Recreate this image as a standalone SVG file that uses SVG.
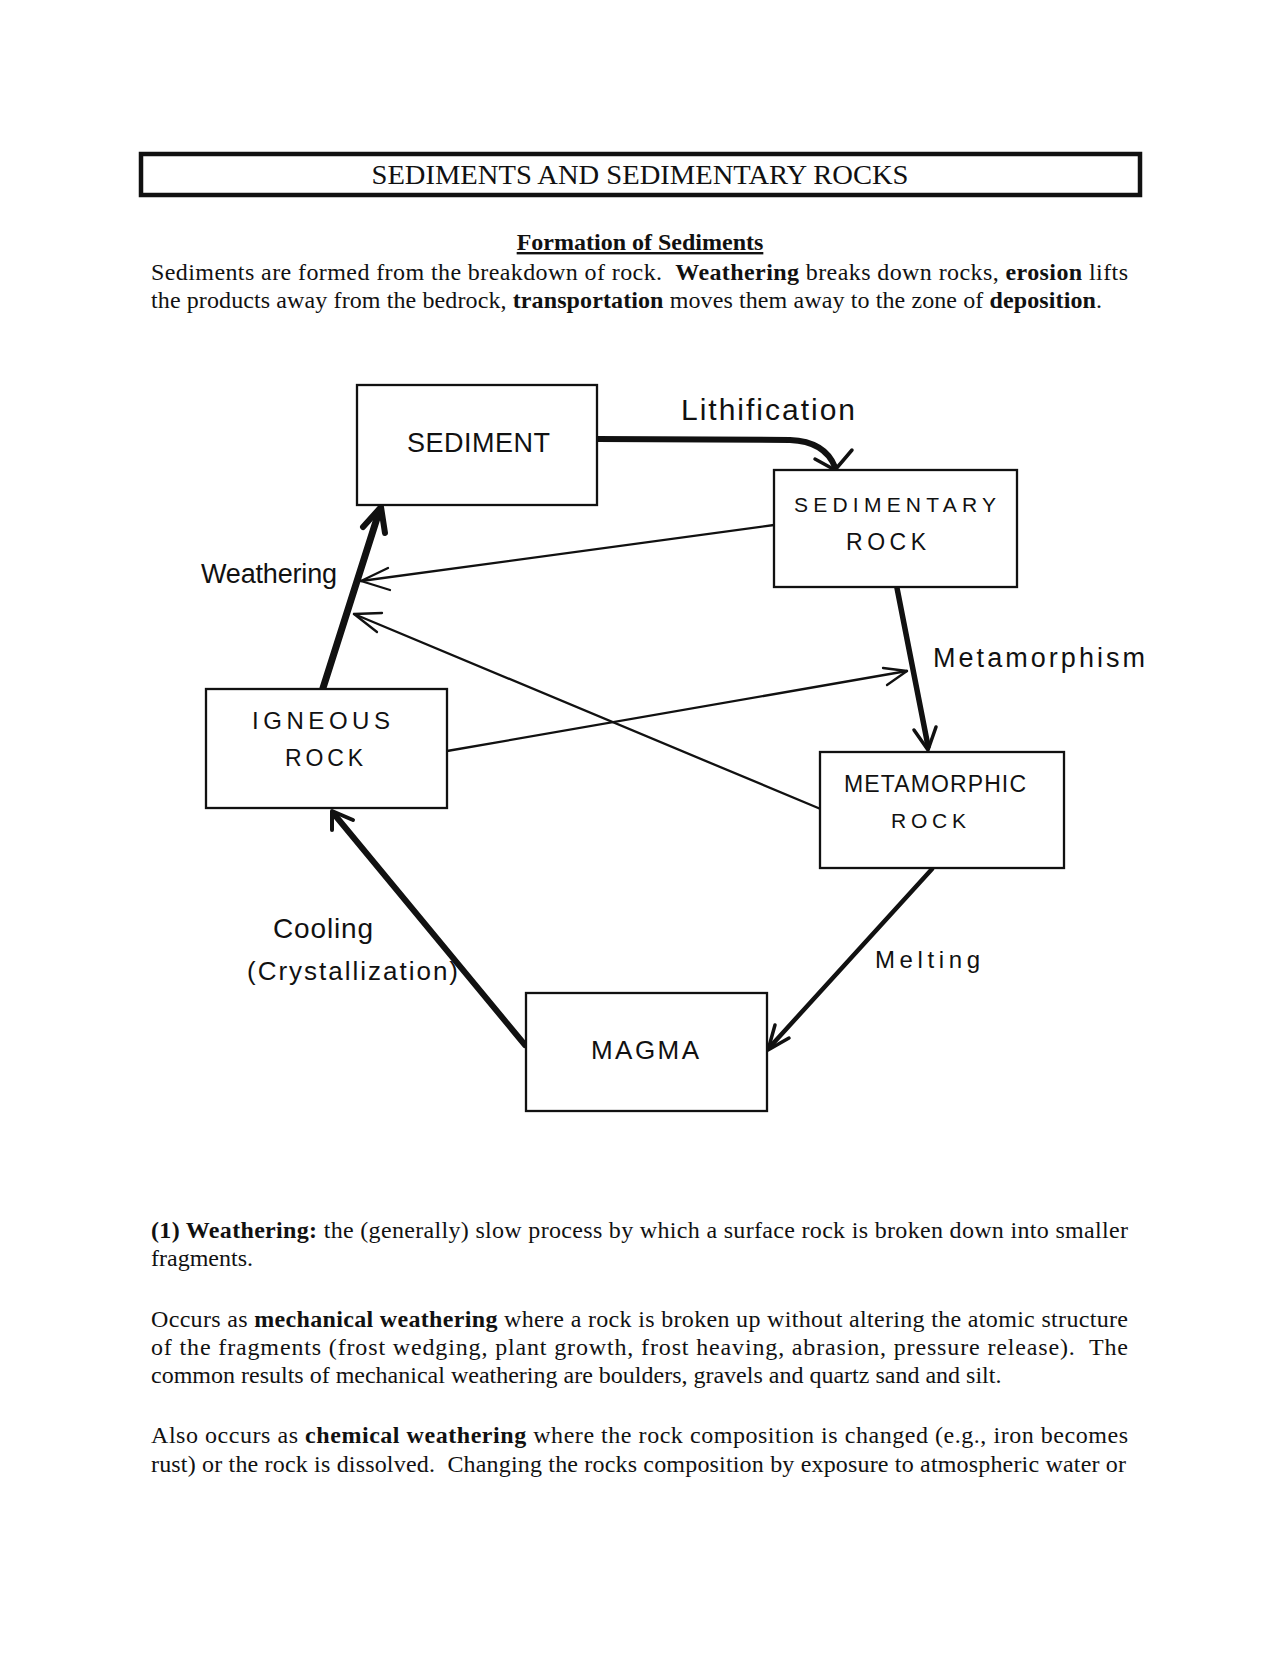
<svg xmlns="http://www.w3.org/2000/svg" width="1280" height="1656" viewBox="0 0 1280 1656">
<style>
.body{font-family:"Liberation Serif","Times New Roman",serif;font-size:24px;fill:#111}
.b{font-weight:bold}
.title{font-family:"Liberation Serif","Times New Roman",serif;font-size:28px;fill:#111}
.hand{font-family:"Liberation Sans",Arial,sans-serif;fill:#111}
.box{fill:#fff;stroke:#111;stroke-width:2.3}
.thick{fill:none;stroke:#111;stroke-linecap:round;stroke-linejoin:round}
.thin{fill:none;stroke:#111;stroke-width:2.3;stroke-linecap:round;stroke-linejoin:round}
</style>
<rect x="0" y="0" width="1280" height="1656" fill="#fff"/>

<g id="header">
<rect x="141" y="154" width="999" height="41" fill="#fff" stroke="#111" stroke-width="4.5"/>
<text class="title" x="640" y="184" text-anchor="middle" textLength="537" lengthAdjust="spacingAndGlyphs">SEDIMENTS AND SEDIMENTARY ROCKS</text>
<text class="body b" x="640" y="250" text-anchor="middle" text-decoration="underline">Formation of Sediments</text>
<text class="body" x="151" y="280" xml:space="preserve" textLength="977" lengthAdjust="spacing">Sediments are formed from the breakdown of rock.  <tspan class="b">Weathering</tspan> breaks down rocks, <tspan class="b">erosion</tspan> lifts</text>
<text class="body" x="151" y="308" xml:space="preserve" textLength="951" lengthAdjust="spacing">the products away from the bedrock, <tspan class="b">transportation</tspan> moves them away to the zone of <tspan class="b">deposition</tspan>.</text>
</g>

<g id="connectors">
<!-- Lithification -->
<path class="thick" stroke-width="6" d="M597,439 L790,440 C815,441 829,452 835,467"/>
<path class="thick" stroke-width="3.5" d="M815,459 L835,470 L852,450"/>
<!-- Metamorphism -->
<path class="thick" stroke-width="5.5" d="M897,588 L928,746"/>
<path class="thick" stroke-width="3.5" d="M914,730 L928,750 L936,727"/>
<!-- Weathering (igneous to sediment) -->
<path class="thick" stroke-width="7" d="M323,688 L379,512"/>
<path class="thick" stroke-width="6" d="M363,527 L381,507 L385,533"/>
<!-- Sedimentary rock to weathering -->
<path class="thin" d="M774,525 L361,581"/>
<path class="thin" d="M388,568 L361,581 L390,590"/>
<!-- Metamorphic rock to weathering -->
<path class="thin" d="M823,810 L354,614"/>
<path class="thin" d="M382,613 L354,614 L377,632"/>
<!-- Igneous rock to metamorphism -->
<path class="thin" d="M447,751 L907,671"/>
<path class="thin" d="M883,668 L907,671 L887,685"/>
<!-- Cooling -->
<path class="thick" stroke-width="6" d="M525,1045 L334,814"/>
<path class="thick" stroke-width="4" d="M332,830 L332,811 L353,820"/>
<!-- Melting -->
<path class="thick" stroke-width="4.5" d="M932,869 L769,1048"/>
<path class="thick" stroke-width="3.5" d="M775,1025 L768,1050 L789,1038"/>
</g>

<g id="labels">
<text class="hand" x="681" y="420" font-size="30" textLength="174" lengthAdjust="spacing">Lithification</text>
<text class="hand" x="201" y="583" font-size="27" textLength="136" lengthAdjust="spacing">Weathering</text>
<text class="hand" x="933" y="667" font-size="27" textLength="212" lengthAdjust="spacing">Metamorphism</text>
<text class="hand" x="273" y="938" font-size="28" textLength="100" lengthAdjust="spacing">Cooling</text>
<text class="hand" x="247" y="980" font-size="26" textLength="211" lengthAdjust="spacing">(Crystallization)</text>
<text class="hand" x="875" y="968" font-size="24" textLength="105" lengthAdjust="spacing">Melting</text>
</g>

<g id="sediment">
<rect class="box" x="357" y="385" width="240" height="120"/>
<text class="hand" x="407" y="452" font-size="27" textLength="143" lengthAdjust="spacing">SEDIMENT</text>
</g>
<g id="sedimentary-rock">
<rect class="box" x="774" y="470" width="243" height="117"/>
<text class="hand" x="794" y="512" font-size="21" textLength="202" lengthAdjust="spacing">SEDIMENTARY</text>
<text class="hand" x="846" y="550" font-size="23" textLength="80" lengthAdjust="spacing">ROCK</text>
</g>
<g id="igneous-rock">
<rect class="box" x="206" y="689" width="241" height="119"/>
<text class="hand" x="252" y="729" font-size="24" textLength="138" lengthAdjust="spacing">IGNEOUS</text>
<text class="hand" x="285" y="766" font-size="23" textLength="78" lengthAdjust="spacing">ROCK</text>
</g>
<g id="metamorphic-rock">
<rect class="box" x="820" y="752" width="244" height="116"/>
<text class="hand" x="844" y="792" font-size="23" textLength="182" lengthAdjust="spacing">METAMORPHIC</text>
<text class="hand" x="891" y="828" font-size="21" textLength="75" lengthAdjust="spacing">ROCK</text>
</g>
<g id="magma">
<rect class="box" x="526" y="993" width="241" height="118"/>
<text class="hand" x="591" y="1059" font-size="26" textLength="108" lengthAdjust="spacing">MAGMA</text>
</g>

<g id="body-text">
<text class="body" x="151" y="1238" xml:space="preserve" textLength="977" lengthAdjust="spacing"><tspan class="b">(1) Weathering:</tspan> the (generally) slow process by which a surface rock is broken down into smaller</text>
<text class="body" x="151" y="1266">fragments.</text>
<text class="body" x="151" y="1327" xml:space="preserve" textLength="977" lengthAdjust="spacing">Occurs as <tspan class="b">mechanical weathering</tspan> where a rock is broken up without altering the atomic structure</text>
<text class="body" x="151" y="1355" xml:space="preserve" textLength="977" lengthAdjust="spacing">of the fragments (frost wedging, plant growth, frost heaving, abrasion, pressure release).  The</text>
<text class="body" x="151" y="1383">common results of mechanical weathering are boulders, gravels and quartz sand and silt.</text>
<text class="body" x="151" y="1443" xml:space="preserve" textLength="977" lengthAdjust="spacing">Also occurs as <tspan class="b">chemical weathering</tspan> where the rock composition is changed (e.g., iron becomes</text>
<text class="body" x="151" y="1472" xml:space="preserve" textLength="975" lengthAdjust="spacing">rust) or the rock is dissolved.  Changing the rocks composition by exposure to atmospheric water or</text>
</g>
</svg>
